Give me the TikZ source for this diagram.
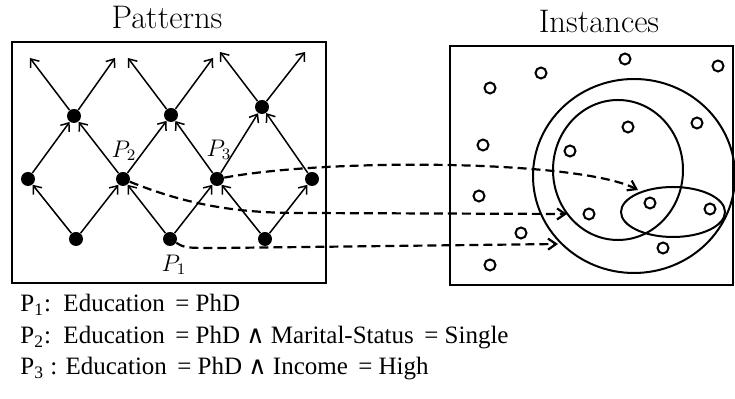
\documentclass[tikz,border=0pt]{standalone}
\usepackage{fontspec}
\newfontfamily\tnr{Liberation Serif}
\newfontfamily\djv{DejaVu Sans}
\usetikzlibrary{arrows.meta}

\begin{document}
\begin{tikzpicture}[
  x=0.5pt, y=-0.5pt,
  frame/.style={draw, line width=1.2pt},
  title/.style={font=\fontsize{16.3}{19}\selectfont, inner sep=0pt},
  pat/.style={circle, fill, inner sep=0pt, minimum size=7pt},
  inst/.style={circle, draw, line width=1pt, inner sep=0pt, minimum size=5.5pt},
  set/.style={line width=1pt},
  arr/.style={-{Straight Barb[length=3.5pt,width=5.5pt]}, line width=0.75pt},
  link/.style={-{Straight Barb[length=4pt,width=5.5pt]}, dash pattern=on 4.5pt off 2.5pt, line width=1.1pt},
  lab/.style={font=\fontsize{12}{14}\selectfont, inner sep=0pt},
  rule/.style={anchor=west, inner sep=0pt, font=\tnr\fontsize{12.5}{15}\selectfont}
]
\useasboundingbox (0,0) rectangle (735,399);
\node[title] (pt) at (167,18) {Patterns};
\node[title] (it) at (599,22) {Instances};
\draw[frame] (12,42) rectangle (326,283);
\draw[frame] (450,46) rectangle (733,285);
\node[pat] (a1) at (74,116) {};
\node[pat] (a2) at (171,115) {};
\node[pat] (a3) at (262,107) {};
\node[pat] (b1) at (28,179) {};
\node[pat] (b2) at (123,179) {};
\node[pat] (b3) at (217,179) {};
\node[pat] (b4) at (312,179) {};
\node[pat] (c1) at (76,239) {};
\node[pat] (c2) at (170,239) {};
\node[pat] (c3) at (265,239) {};
\coordinate (u1) at (30,58);
\coordinate (u2) at (115,58);
\coordinate (u3) at (128,58);
\coordinate (u4) at (213,58);
\coordinate (u5) at (220,52);
\coordinate (u6) at (305,52);
\node[lab] (l2) at (124,151) {$P_2$};
\node[lab] (l3) at (219,150) {$P_3$};
\node[lab] (l1) at (174,265) {$P_1$};
\draw[arr] (c1) -- (b1);
\draw[arr] (c1) -- (b2);
\draw[arr] (c2) -- (b2);
\draw[arr] (c2) -- (b3);
\draw[arr] (c3) -- (b3);
\draw[arr] (c3) -- (b4);
\draw[arr] (b1) -- (a1);
\draw[arr] (b2) -- (a1);
\draw[arr] (b2) -- (a2);
\draw[arr] (b3) -- (a2);
\draw[arr] (b3) -- (a3);
\draw[arr] (b4) -- (a3);
\draw[arr] (a1) -- (u1);
\draw[arr] (a1) -- (u2);
\draw[arr] (a2) -- (u3);
\draw[arr] (a2) -- (u4);
\draw[arr] (a3) -- (u5);
\draw[arr] (a3) -- (u6);
\node[inst] (i1) at (490,88) {};
\node[inst] (i2) at (541,73) {};
\node[inst] (i3) at (625,59) {};
\node[inst] (i4) at (718,66) {};
\node[inst] (i5) at (483,145) {};
\node[inst] (i6) at (570,151) {};
\node[inst] (i7) at (628,127) {};
\node[inst] (i8) at (697,123) {};
\node[inst] (i9) at (479,196) {};
\node[inst] (i10) at (589,214) {};
\node[inst] (i11) at (650,203) {};
\node[inst] (i12) at (710,209) {};
\node[inst] (i13) at (521,233) {};
\node[inst] (i14) at (663,248) {};
\node[inst] (i15) at (490,265) {};
\draw[set] (634,176) ellipse [x radius=101, y radius=97];
\draw[set] (618,170) ellipse [x radius=65, y radius=70];
\draw[set] (673,212) ellipse [x radius=52, y radius=25];
\coordinate (e3) at (638,190);
\coordinate (e2) at (567,214);
\coordinate (e1) at (558,244);
\draw[link] (b3) .. controls (330,158) and (580,160) .. (e3);
\draw[link] (b2) .. controls (190,206) and (240,213) .. (300,213) -- (e2);
\draw[link] (c2) .. controls (185,248) .. (220,248) -- (e1);
\node[rule] (r1) at (20,305) {P\textsubscript{1}:\ \ Education\ \,= PhD};
\node[rule] (r2) at (20,338) {P\textsubscript{2}:\ \ Education\ \,= PhD {\djv ∧} Marital-Status\ \,= Single};
\node[rule] (r3) at (20,369) {P\textsubscript{3} : Education\ \,= PhD {\djv ∧} Income\ \,= High};
\end{tikzpicture}
\end{document}
